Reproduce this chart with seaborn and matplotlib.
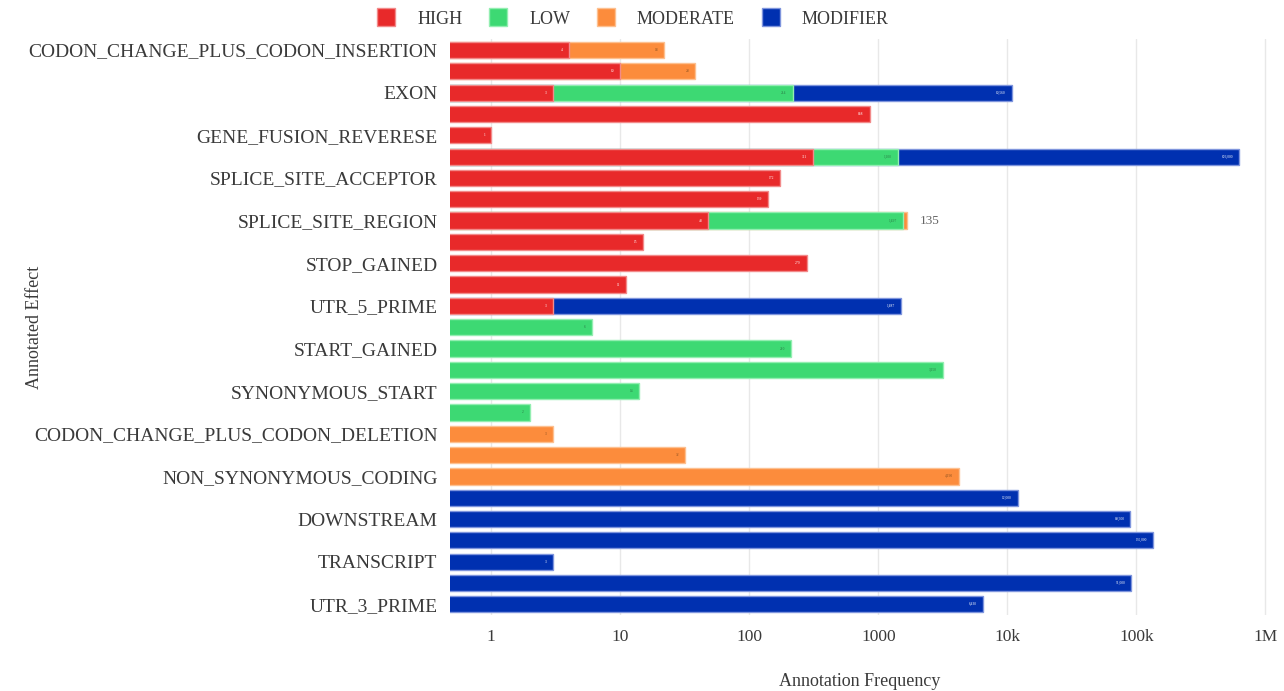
import numpy as np
import pandas as pd
import matplotlib
matplotlib.use("Agg")
import matplotlib.pyplot as plt
from matplotlib.lines import Line2D
import seaborn as sns

effects = [
    "CODON_CHANGE_PLUS_CODON_INSERTION", "CODON_DELETION", "EXON", "FRAME_SHIFT",
    "GENE_FUSION_REVERESE", "INTRON", "SPLICE_SITE_ACCEPTOR", "SPLICE_SITE_DONOR",
    "SPLICE_SITE_REGION", "START_LOST", "STOP_GAINED", "STOP_LOST", "UTR_5_PRIME",
    "NON_SYNONYMOUS_START", "START_GAINED", "SYNONYMOUS_CODING", "SYNONYMOUS_START",
    "SYNONYMOUS_STOP", "CODON_CHANGE_PLUS_CODON_DELETION", "CODON_CHANGE",
    "NON_SYNONYMOUS_CODING", "CDS", "DOWNSTREAM", "INTERGENIC", "TRANSCRIPT",
    "UPSTREAM", "UTR_3_PRIME",
]
high =     [4, 10, 3, 858, 1, 311, 172, 139, 48, 15, 279, 11, 3,
            0, 0, 0, 0, 0, 0, 0, 0, 0, 0, 0, 0, 0, 0]
low =      [0, 0, 214, 0, 0, 1100, 0, 0, 1497, 0, 0, 0, 0,
            6, 210, 3150, 14, 2, 0, 0, 0, 0, 0, 0, 0, 0, 0]
moderate = [18, 28, 0, 0, 0, 0, 0, 0, 135, 0, 0, 0, 0,
            0, 0, 0, 0, 0, 3, 32, 4190, 0, 0, 0, 0, 0, 0]
modifier = [0, 0, 10560, 0, 0, 626000, 0, 0, 0, 0, 0, 0, 1487,
            0, 0, 0, 0, 0, 0, 0, 0, 12000, 89900, 135000, 3, 91000, 6430]

levels = ["HIGH", "LOW", "MODERATE", "MODIFIER"]
colors = {"HIGH": "#e8292a", "LOW": "#3dd973", "MODERATE": "#fc8c3c", "MODIFIER": "#0030b0"}
edges = {"HIGH": "#f28a8a", "LOW": "#93eeb1", "MODERATE": "#fdc090", "MODIFIER": "#7f95dd"}
label_col = {"HIGH": "white", "LOW": "#2a7a45", "MODERATE": "#8a5020", "MODIFIER": "white"}

sns.set_style("white")
plt.rcParams["font.family"] = ["Liberation Serif", "DejaVu Serif"]

df = pd.DataFrame({"effect": effects, "HIGH": high, "LOW": low,
                   "MODERATE": moderate, "MODIFIER": modifier})
cum = df[levels].cumsum(axis=1)

fig = plt.figure(figsize=(12.84, 6.91), dpi=100)
ax = fig.add_axes([0.3505, 0.11, 0.638, 0.833])

for lvl in reversed(levels):
    vals = cum[lvl].where(df[lvl] > 0)
    d = pd.DataFrame({"effect": effects, "v": vals}).dropna()
    sns.barplot(data=d, x="v", y="effect", order=effects, orient="h",
                color=colors[lvl], edgecolor=edges[lvl], linewidth=1.0,
                width=0.76, saturation=1, errorbar=None, ax=ax, zorder=2)

ax.set_xscale("log")
ax.set_xlim(0.48, 1.07e6)
ax.set_ylim(26.5, -0.5)

# tiny in-bar value labels
for i, e in enumerate(effects):
    for lvl in levels:
        v = df.loc[i, lvl]
        if v <= 0:
            continue
        end = cum.loc[i, lvl]
        if lvl == "MODERATE" and e == "SPLICE_SITE_REGION":
            ax.text(end * 1.25, i, f"{v}", va="center", ha="left",
                    fontsize=9.5, color="#666666", zorder=4)
            continue
        ax.text(end * 0.9, i, f"{v:,}", va="center", ha="right",
                fontsize=2.6, color=label_col[lvl], zorder=4)

ticks = [1, 10, 100, 1000, 1e4, 1e5, 1e6]
ax.set_xticks(ticks)
ax.set_xticklabels(["1", "10", "100", "1000", "10k", "100k", "1M"], fontsize=12.5, color="#3a3a3a")
ax.xaxis.set_minor_locator(matplotlib.ticker.NullLocator())
ax.set_yticks(range(len(effects)))
ax.set_yticklabels([e if i % 2 == 0 else "" for i, e in enumerate(effects)],
                   fontsize=14, color="#3a3a3a")
ax.tick_params(axis="both", length=0)
ax.tick_params(axis="x", pad=10)
ax.tick_params(axis="y", pad=9)

ax.grid(axis="x", color="#e8e8e8", linewidth=1.0, zorder=0)
ax.set_axisbelow(True)
for s in ax.spines.values():
    s.set_visible(False)

ax.set_xlabel("Annotation Frequency", fontsize=13, color="#3a3a3a", labelpad=20)
ax.set_ylabel("Annotated Effect", fontsize=13, color="#3a3a3a")
ax.yaxis.set_label_coords(-0.497, 0.5)

handles = [Line2D([0], [0], marker="s", linestyle="none", markersize=13,
                  markerfacecolor=colors[l], markeredgecolor=edges[l]) for l in levels]
fig.legend(handles, levels, loc="upper center", bbox_to_anchor=(0.493, 1.008), ncol=4,
           frameon=False, fontsize=13, labelcolor="#3a3a3a", handlelength=1.0,
           handletextpad=1.2, columnspacing=1.5)

fig.savefig("out.png", dpi=100)
